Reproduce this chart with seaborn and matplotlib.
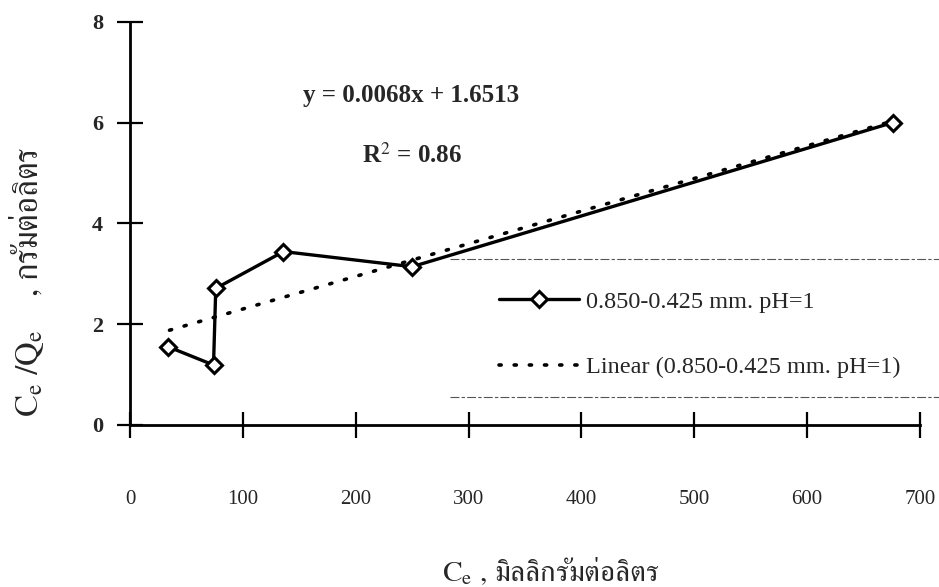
import matplotlib
matplotlib.use("Agg")
import matplotlib.pyplot as plt
from matplotlib.lines import Line2D
import seaborn as sns
import pandas as pd

# ---- data ----
ce = [34, 74, 76, 136, 250, 676]
ce_qe = [1.55, 1.19, 2.71, 3.44, 3.14, 6.0]
trend_x = [35, 676]
trend_y = [1.88, 6.03]
slope = 0.0068
intercept = 1.6513
r2 = 0.86
series_name = "0.850-0.425 mm. pH=1"
trend_name = "Linear (0.850-0.425 mm. pH=1)"
x_title = r"C$_{\mathrm{e}}$ , มิลลิกรัมต่อลิตร"
y_title = r"C$_{\mathrm{e}}$ /Q$_{\mathrm{e}}$    , กรัมต่อลิตร"
x_ticks = [0, 100, 200, 300, 400, 500, 600, 700]
y_ticks = [0, 2, 4, 6, 8]

sns.set_style("white")
plt.rcParams["font.family"] = ["Liberation Serif", "FreeSerif", "Loma", "DejaVu Sans"]
plt.rcParams["mathtext.fontset"] = "stix"
thai_family = ["FreeSerif", "Loma", "Liberation Serif", "DejaVu Sans"]

fig = plt.figure(figsize=(9.39, 5.87), dpi=100)
ax = fig.add_axes([130/939, 1 - 425/587, 790/939, (425 - 21.7)/587])

df = pd.DataFrame({"x": ce, "y": ce_qe})
df_fit = pd.DataFrame({"x": trend_x, "y": trend_y})

sns.lineplot(data=df_fit, x="x", y="y", ax=ax, color="black", lw=2.6,
             linestyle=(0, (0.6, 3.6)), dash_capstyle="round", label=trend_name)
sns.lineplot(data=df, x="x", y="y", ax=ax, color="black", lw=2.4,
             marker="D", markersize=8.5, markerfacecolor="white",
             markeredgecolor="black", markeredgewidth=2.2, label=series_name,
             sort=False)

ax.set_xlim(0, 700)
ax.set_ylim(0, 8)
ax.set_xticks(x_ticks)
ax.set_yticks(y_ticks)
ax.set_xticklabels([str(v) for v in x_ticks], fontsize=15)
ax.set_yticklabels([str(v) for v in y_ticks], fontsize=16, fontweight="bold")
ax.tick_params(axis="both", direction="inout", length=19, width=1.6, color="black",
               bottom=True, left=True)
ax.tick_params(axis="x", pad=37)
ax.tick_params(axis="y", pad=10)
for s in ["top", "right"]:
    ax.spines[s].set_visible(False)
for s in ["left", "bottom"]:
    ax.spines[s].set_color("black")
    ax.spines[s].set_linewidth(2.0)

ax.set_xlabel(x_title, fontsize=21, family=thai_family)
ax.xaxis.label.set_ha("left")
ax.xaxis.label.set_va("baseline")
ax.xaxis.set_label_coords((442 - 130) / 790, (425 - 581) / 403.3)

ax.set_ylabel(y_title, fontsize=23.5, family=thai_family)
ax.yaxis.label.set_ha("left")
ax.yaxis.set_label_coords((46 - 130) / 790, (425 - 417) / 403.3)

ax.text((411 - 130) / 790, (425 - 95) / 403.3, f"y = {slope}x + {intercept}",
        transform=ax.transAxes, ha="center", va="center", fontsize=18, fontweight="bold")
ax.text((412 - 130) / 790, (425 - 155) / 403.3, f"R$^{{2}}$ = {r2}",
        transform=ax.transAxes, ha="center", va="center", fontsize=18, fontweight="bold")

handles, labels = ax.get_legend_handles_labels()
order = [labels.index(series_name), labels.index(trend_name)]
leg = ax.legend([handles[i] for i in order], [labels[i] for i in order],
                loc="upper left", bbox_to_anchor=((489 - 130) / 790, (425 - 281) / 403.3),
                frameon=False, fontsize=17.5, handlelength=3.3, labelspacing=1.8,
                handletextpad=0.3, borderaxespad=0)

# faint scan-like frame lines of the legend box
for yy in (259, 397):
    fig.add_artist(Line2D([450/939, 1.0], [1 - yy/587, 1 - yy/587],
                          color="#555555", lw=0.8, linestyle=(0, (8, 2, 3, 2))))

fig.savefig("out.png", dpi=100)
